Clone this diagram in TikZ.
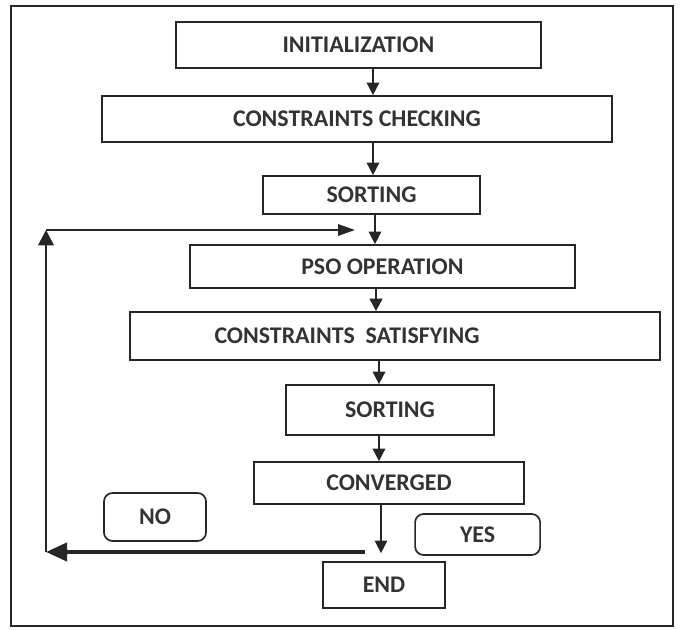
\documentclass[tikz,border=0pt]{standalone}
\usepackage{fontspec}
\setmainfont{Carlito}
\usetikzlibrary{arrows.meta}
\definecolor{mtext}{rgb}{0.2, 0.2, 0.2}
\definecolor{mline}{rgb}{0.15, 0.15, 0.15}
\tikzset{blk/.style  = {draw=mline, line width=1.2pt, inner sep=0pt, text=mtext,
                        font=\fontsize{17}{20}\selectfont\bfseries},
         rblk/.style = {blk, rounded corners=6pt},
         flow/.style = {draw=mline, line width=1.2pt, -{Triangle[width=9pt,length=9pt]}}}

\begin{document}
\begin{tikzpicture}
    \useasboundingbox (0, 0) rectangle (17, 15.725);
    \draw [mline, line width=1pt] (0.275, 0.075) rectangle (16.825, 15.575);

    \node [blk, minimum width=9.125cm, minimum height=1.15cm] (init) at (8.96, 14.6) {INITIALIZATION};
    \node [blk, minimum width=12.75cm, minimum height=1.15cm] (check) at (8.925, 12.75) {CONSTRAINTS CHECKING};
    \node [blk, minimum width=5.425cm, minimum height=0.95cm] (sortA) at (9.29, 10.85) {SORTING};
    \node [blk, minimum width=9.625cm, minimum height=1.075cm] (pso) at (9.56, 9.0625) {PSO OPERATION};
    \node [blk, minimum width=13.25cm, minimum height=1.2cm] (satisfy) at (9.875, 7.325) {CONSTRAINTS~~SATISFYING\kern2.4cm};
    \node [blk, minimum width=5.2cm, minimum height=1.25cm] (sortB) at (9.75, 5.475) {SORTING};
    \node [blk, minimum width=6.75cm, minimum height=1.05cm] (conv) at (9.725, 3.65) {CONVERGED};
    \node [rblk, minimum width=2.55cm, minimum height=1.2cm] (no) at (3.875, 2.8) {NO};
    \node [rblk, minimum width=3.125cm, minimum height=1.025cm] (yes) at (11.94, 2.3625) {YES};
    \node [blk, minimum width=3.05cm, minimum height=1.15cm] (end) at (9.6, 1.1) {END};

    \draw [flow] ([xshift=0.365cm]init.south) -- ([xshift=0.4cm]check.north);
    \draw [flow] ([xshift=0.4cm]check.south) -- ([xshift=0.035cm]sortA.north);
    \draw [flow] ([xshift=0.085cm]sortA.south) -- ([xshift=-0.185cm]pso.north);
    \draw [flow, line width=2pt] ([xshift=-0.16cm]pso.south) -- ([xshift=-0.475cm]satisfy.north);
    \draw [flow] ([xshift=-0.4cm]satisfy.south) -- ([xshift=-0.275cm]sortB.north);
    \draw [flow] ([xshift=-0.275cm]sortB.south) -- ([xshift=-0.25cm]conv.north);
    \draw [flow, line width=0.9pt, shorten >=0.2cm] ([xshift=-0.2cm]conv.south) -- ([xshift=-0.075cm]end.north);

    % loop back when not converged
    \coordinate (nostart) at (9.125, 1.925);
    \coordinate (ncorner) at (1.15, 1.925);
    \coordinate (ntop) at (1.15, 9.975);
    \coordinate (nend) at (8.875, 9.975);
    \draw [mline, line width=2.5pt, -{Triangle[width=13pt,length=15pt]}] (nostart) -- (ncorner);
    \draw [mline, line width=2pt, -{Triangle[width=11pt,length=11pt]}] (ncorner) -- (ntop);
    \draw [mline, line width=1.5pt, -{Triangle[width=8pt,length=12pt]}] (ntop) -- (nend);
\end{tikzpicture}
\end{document}
